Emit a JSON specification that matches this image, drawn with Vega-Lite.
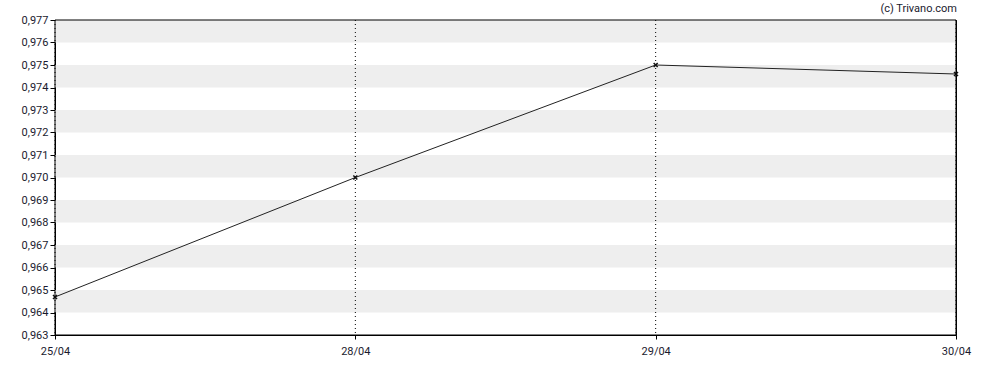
{
  "$schema": "https://vega.github.io/schema/vega-lite/v6.json",
  "width": 901,
  "height": 315,
  "autosize": {"type": "none"},
  "padding": {"left": 55, "top": 20, "right": 32, "bottom": 35},
  "background": "white",
  "config": {
    "view": {"stroke": "black", "strokeWidth": 1},
    "font": "Roboto",
    "axis": {"labelFont": "Roboto", "labelFontSize": 11, "labelColor": "#1a1a2e", "domainColor": "black", "tickColor": "black", "grid": false, "labelOverlap": false, "labelBound": false, "labelFlush": false},
    "axisY": {"labelOverlap": false},
    "axisQuantitative": {"labelOverlap": false}
  },
  "title": {"text": "(c) Trivano.com", "anchor": "end", "frame": "group", "baseline": "bottom", "fontSize": 11, "font": "Roboto", "fontWeight": "normal", "color": "#1a1a2e", "offset": 0, "dx": 1, "dy": 11},
  "datasets": {
    "prices": [
      {"date": "25/04", "price": 0.96469},
      {"date": "28/04", "price": 0.970},
      {"date": "29/04", "price": 0.975},
      {"date": "30/04", "price": 0.9746}
    ],
    "bands": [
      {"lo": 0.964, "hi": 0.965},
      {"lo": 0.966, "hi": 0.967},
      {"lo": 0.968, "hi": 0.969},
      {"lo": 0.970, "hi": 0.971},
      {"lo": 0.972, "hi": 0.973},
      {"lo": 0.974, "hi": 0.975},
      {"lo": 0.976, "hi": 0.977}
    ],
    "frame": [{"box": 1}]
  },
  "layer": [
    {
      "data": {"name": "bands"},
      "mark": {"type": "rect", "color": "#eeeeee"},
      "encoding": {
        "y": {
          "field": "lo", "type": "quantitative",
          "scale": {"domain": [0.963, 0.977], "nice": false, "zero": false},
          "axis": {
            "title": null,
            "tickCount": 14,
            "labelExpr": "replace(format(datum.value, '.3f'), '.', ',')",
            "labelOverlap": false,
            "tickSize": 5, "labelPadding": 2
          }
        },
        "y2": {"field": "hi"}
      }
    },
    {
      "data": {"name": "prices"},
      "mark": {"type": "rule", "color": "black", "strokeDash": [1, 3], "strokeWidth": 1},
      "encoding": {
        "x": {"field": "date", "type": "ordinal", "scale": {"type": "point", "padding": 0}}
      }
    },
    {
      "data": {"name": "prices"},
      "mark": {"type": "line", "color": "#222222", "strokeWidth": 1},
      "encoding": {
        "x": {"field": "date", "type": "ordinal", "scale": {"type": "point", "padding": 0},
              "axis": {"title": null, "labelAngle": 0, "labelAlign": "center", "labelBaseline": "top", "ticks": true, "tickSize": 4, "labelPadding": 6, "domain": true}},
        "y": {"field": "price", "type": "quantitative"}
      }
    },
    {
      "data": {"name": "prices"},
      "mark": {"type": "point", "shape": "M-1,-1L1,1M1,-1L-1,1", "size": 16, "stroke": "#111111", "strokeWidth": 1.5, "filled": false, "opacity": 1},
      "encoding": {
        "x": {"field": "date", "type": "ordinal"},
        "y": {"field": "price", "type": "quantitative"}
      }
    },
    {
      "data": {"name": "frame"},
      "mark": {"type": "rect", "fill": null, "fillOpacity": 0, "stroke": "black", "strokeWidth": 1},
      "encoding": {
        "x": {"value": 0},
        "x2": {"value": "width"},
        "y": {"value": 0},
        "y2": {"value": "height"}
      }
    }
  ]
}
